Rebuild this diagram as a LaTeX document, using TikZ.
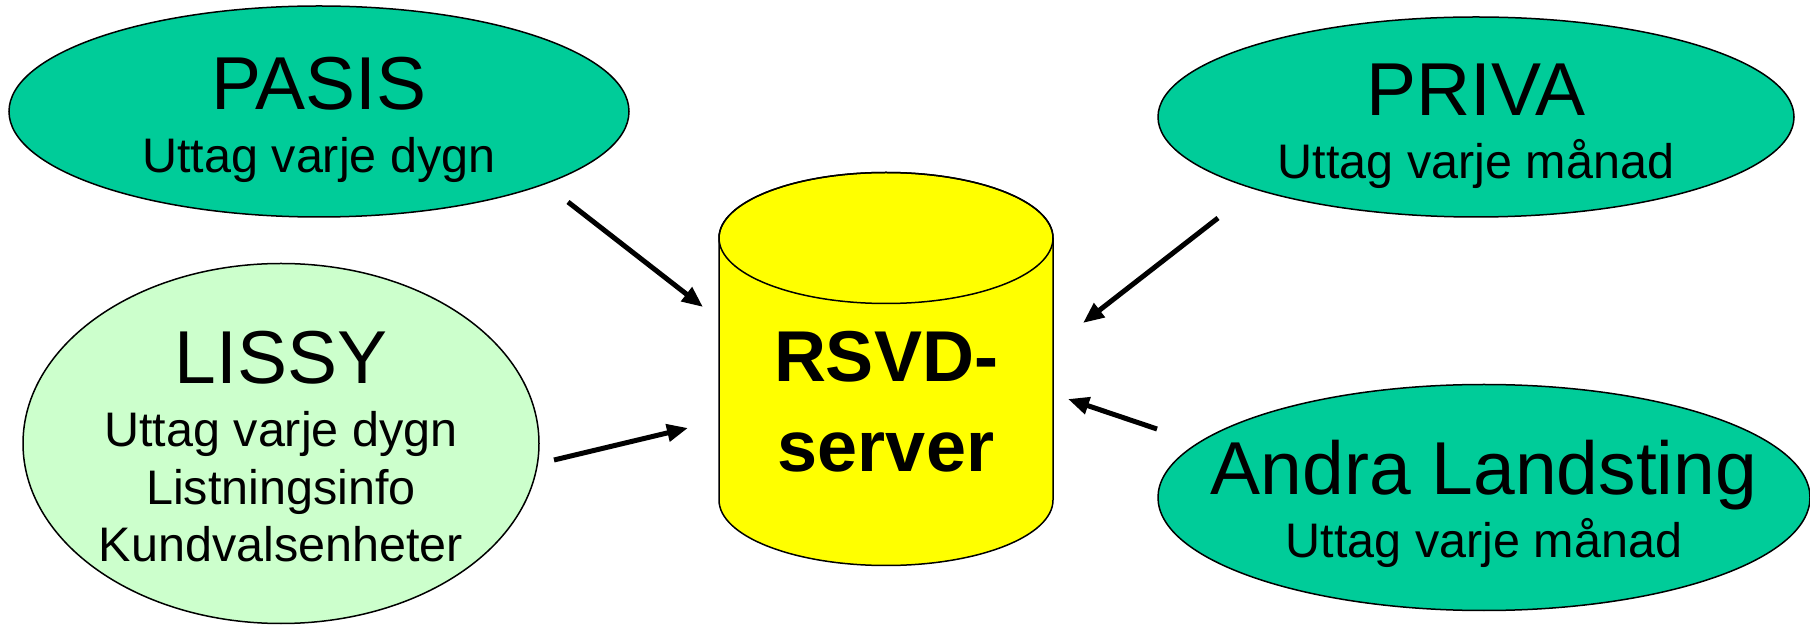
\documentclass[tikz,border=0pt]{standalone}
\usepackage{fontspec}
\setmainfont{Liberation Sans}
\usetikzlibrary{shapes,arrows.meta}

\definecolor{sysgreen}{HTML}{00CC99}
\definecolor{listgreen}{HTML}{CCFFCC}
\definecolor{dbyellow}{HTML}{FFFF00}
\newcommand{\titlefont}{\fontsize{75}{75}\selectfont}
\newcommand{\subfont}{\fontsize{48.5}{57.5}\selectfont}

\begin{document}
\begin{tikzpicture}[x=1pt,y=1pt,
  sys node/.style={ellipse,draw,line width=1.5pt,fill=sysgreen,inner sep=0pt},
  sys text/.style={align=center,font=\subfont},
  feed/.style={-{Triangle[length=21pt,width=17pt]},line width=5pt}]

  \useasboundingbox (0,0) rectangle (1810,624);

  \node[sys node,minimum width=620pt,minimum height=211pt,
    label={[sys text,yshift=-8pt]center:{{\titlefont PASIS}\\[5.5pt]Uttag varje dygn}}] (pasis) at (319,512.5) {};
  \node[sys node,minimum width=636pt,minimum height=200pt,
    label={[sys text,yshift=-9pt]center:{{\titlefont PRIVA}\\[5.5pt]Uttag varje månad}}] (priva) at (1476,507) {};
  \node[sys node,fill=listgreen,minimum width=516pt,minimum height=360pt,
    label={[sys text,yshift=-3.5pt]center:{{\titlefont LISSY}\\[5.5pt]Uttag varje dygn\\Listningsinfo\\Kundvalsenheter}}] (lissy) at (281,180.5) {};
  \node[sys node,minimum width=652pt,minimum height=226pt,
    label={[sys text,yshift=-6.5pt]center:{{\titlefont Andra Landsting}\\[5.5pt]Uttag varje månad}}] (andra) at (1484,126.5) {};

  % server cylinder
  \filldraw[fill=dbyellow,line width=1.5pt] (719,386) -- (719,124)
    arc[start angle=180,end angle=360,x radius=167pt,y radius=65.5pt] -- (1053,386)
    arc[start angle=0,end angle=180,x radius=167pt,y radius=65.5pt] -- cycle;
  \draw[line width=1.5pt] (886,386) ellipse[x radius=167pt,y radius=65.5pt];
  \node[align=center,font=\fontsize{72}{90}\selectfont\bfseries] (rsvd) at (886,222) {RSVD-\\server};

  \coordinate (pasis out) at (568,422);
  \coordinate (lissy out) at (554,164);
  \coordinate (priva out) at (1218,406);
  \coordinate (andra out) at (1157,195);
  \coordinate (rsvd nw) at (703,317);
  \coordinate (rsvd w) at (688,196);
  \coordinate (rsvd ne) at (1083,301);
  \coordinate (rsvd e) at (1068,225);

  \draw[feed] (pasis out) -- (rsvd nw);
  \draw[feed] (lissy out) -- (rsvd w);
  \draw[feed] (priva out) -- (rsvd ne);
  \draw[feed] (andra out) -- (rsvd e);
\end{tikzpicture}
\end{document}
